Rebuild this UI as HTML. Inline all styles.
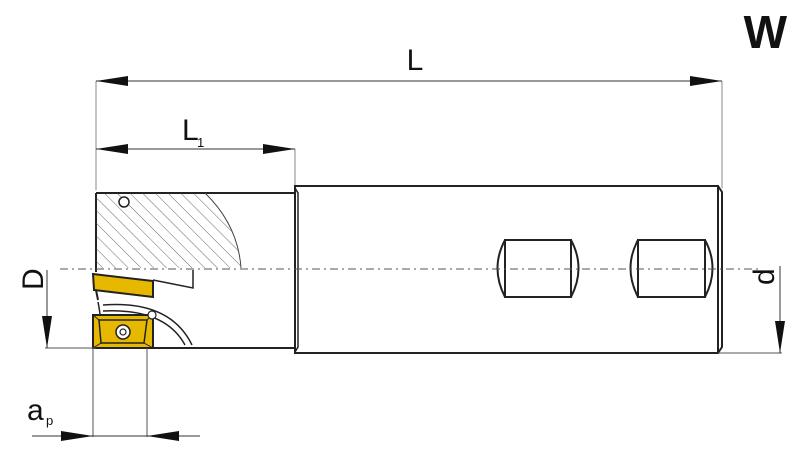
<!DOCTYPE html>
<html><head><meta charset="utf-8"><style>body{margin:0;background:#fff}svg{display:block}</style></head><body>
<svg width="800" height="457" viewBox="0 0 800 457" xmlns="http://www.w3.org/2000/svg" font-family="'Liberation Sans', sans-serif">
<defs>
<pattern id="h" patternUnits="userSpaceOnUse" width="9" height="9" patternTransform="rotate(-45)">
<line x1="0" y1="0" x2="0" y2="9" stroke="#444" stroke-width="0.8"/></pattern>
</defs>
<text x="787" y="48" font-size="46" font-weight="bold" text-anchor="end" fill="#111">W</text>
<!-- L dim -->
<line x1="96" y1="81" x2="96" y2="190" stroke="#888" stroke-width="1"/>
<line x1="722" y1="81" x2="722" y2="188" stroke="#888" stroke-width="1"/>
<line x1="96" y1="81" x2="722" y2="81" stroke="#333" stroke-width="1"/>
<path d="M96,81 L128,76 L128,86Z M722,81 L690,76 L690,86Z" fill="#111"/>
<text x="415" y="70" font-size="30" text-anchor="middle" fill="#111">L</text>
<!-- L1 -->
<line x1="295" y1="149" x2="295" y2="188" stroke="#888" stroke-width="1"/>
<line x1="96" y1="149" x2="295" y2="149" stroke="#333" stroke-width="1"/>
<path d="M96,149 L128,144 L128,154Z M295,149 L263,144 L263,154Z" fill="#111"/>
<text x="182" y="140" font-size="30" fill="#111">L</text><text x="197" y="147" font-size="13" fill="#111">1</text>
<!-- shank -->
<rect x="295" y="186" width="423" height="167" fill="#fff" stroke="#222" stroke-width="2"/>
<path d="M718,186 L722,192 L722,347 L718,353" fill="none" stroke="#222" stroke-width="2"/>
<path d="M295,188 L298,193 L298,347 L295,352" fill="none" stroke="#222" stroke-width="1.5"/>
<!-- head -->
<path d="M96,193 L295,193 M96,348 L295,348 M96,193 L96,272 M96,290 L98,300" fill="none" stroke="#222" stroke-width="2"/>
<path d="M96,193 L205,193 Q238,225 241,268 L96,268 Z" fill="url(#h)"/>
<path d="M205,193 Q238,225 241,268" fill="none" stroke="#444" stroke-width="1"/>
<circle cx="124" cy="202" r="5" fill="#fff" stroke="#222" stroke-width="1.5"/>
<!-- slots -->
<g fill="none" stroke="#222" stroke-width="2">
<rect x="505" y="240" width="66" height="57"/>
<path d="M505,240 Q490,268 505,297 M571,240 Q586,268 571,297"/>
<rect x="638" y="240" width="67" height="57"/>
<path d="M638,240 Q623,268 638,297 M705,240 Q720,268 705,297"/>
</g>
<!-- centerline -->
<line x1="60" y1="269" x2="760" y2="269" stroke="#555" stroke-width="1" stroke-dasharray="8,4,2,4"/>
<!-- upper insert -->
<path d="M153,280 L193,288 L193,270" fill="none" stroke="#222" stroke-width="1.5"/>
<path d="M93,274 L153,281 L153,297 L94,290 Z" fill="#e6b800" stroke="#222" stroke-width="2"/>
<!-- curves -->
<path d="M98,302 Q100,312 100,316 M103,305 Q170,300 192,345 M103,311 Q165,308 185,345" fill="none" stroke="#222" stroke-width="1.5"/>
<!-- lower insert -->
<rect x="93" y="315" width="60" height="33" fill="#e6b800" stroke="#222" stroke-width="2"/>
<path d="M99,320 L147,320 L144,343 L101,343 Z" fill="none" stroke="#222" stroke-width="1.5"/>
<path d="M93,315 L99,320 M153,315 L147,320 M153,348 L144,343 M93,348 L101,343" stroke="#222" stroke-width="1"/>
<circle cx="123" cy="332" r="7" fill="#fff" stroke="#222" stroke-width="1.5"/>
<circle cx="123" cy="332" r="3" fill="none" stroke="#222" stroke-width="1.2"/>
<circle cx="152" cy="315" r="4" fill="#fff" stroke="#222" stroke-width="1.2"/>
<!-- D -->
<line x1="45" y1="348" x2="96" y2="348" stroke="#555" stroke-width="1"/>
<line x1="47" y1="270" x2="47" y2="348" stroke="#333" stroke-width="1"/>
<path d="M47,348 L42,316 L52,316Z" fill="#111"/>
<text transform="translate(43,290) rotate(-90)" font-size="30" fill="#111">D</text>
<!-- d -->
<line x1="718" y1="353" x2="782" y2="353" stroke="#555" stroke-width="1"/>
<line x1="780" y1="266" x2="780" y2="353" stroke="#333" stroke-width="1"/>
<path d="M780,353 L775,321 L785,321Z" fill="#111"/>
<text transform="translate(774,285) rotate(-90)" font-size="30" fill="#111">d</text>
<!-- ap -->
<line x1="93" y1="348" x2="93" y2="437" stroke="#555" stroke-width="1"/>
<line x1="147" y1="348" x2="147" y2="437" stroke="#555" stroke-width="1"/>
<line x1="32" y1="436" x2="200" y2="436" stroke="#333" stroke-width="1"/>
<path d="M93,436 L61,431 L61,441Z M147,436 L179,431 L179,441Z" fill="#111"/>
<text x="27" y="420" font-size="30" fill="#111">a</text><text x="46" y="425" font-size="13" fill="#111">p</text>
</svg>
</body></html>
